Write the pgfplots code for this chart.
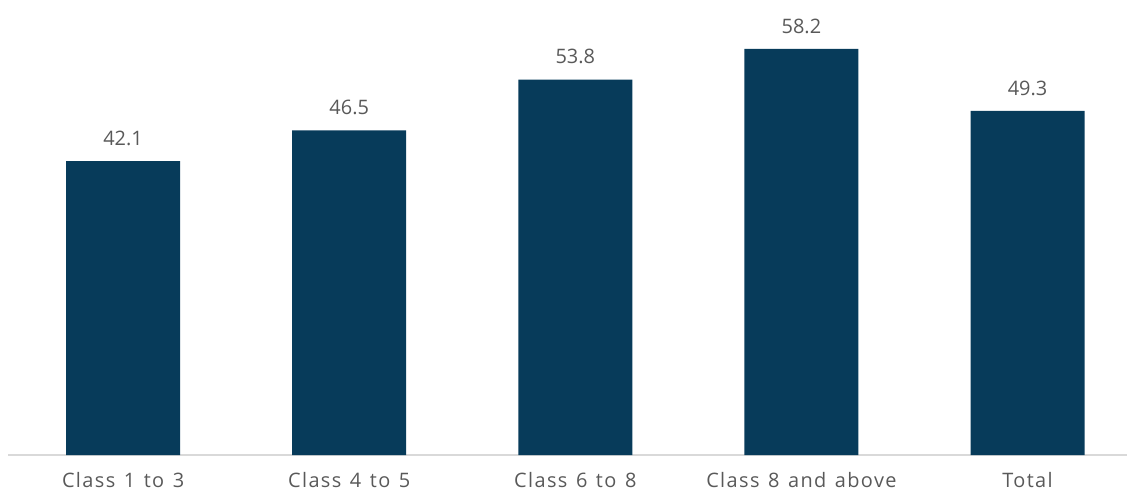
\documentclass[border=0pt]{standalone}
\usepackage{fontspec}
\setmainfont{Open Sans}
\newfontfamily\tickfont[LetterSpace=7,WordSpace=1.3]{Open Sans}
\usepackage{pgfplots}
\pgfplotsset{compat=1.18}
\definecolor{barblue}{HTML}{073B5A}
\definecolor{txtgrey}{HTML}{595959}
\definecolor{axgrey}{HTML}{D9D9D9}
\begin{document}
\begin{tikzpicture}
\begin{axis}[
  scale only axis,
  width=1119bp, height=455bp,
  xmin=-0.509, xmax=4.44,
  ymin=0, ymax=65.2,
  axis x line*=bottom,
  axis y line=none,
  x axis line style={draw=axgrey, line width=1.5bp, -},
  xtick={0,1,2,3,4},
  xticklabels={Class 1 to 3, Class 4 to 5, Class 6 to 8, Class 8 and above, Total},
  major tick length=0pt,
  xticklabel style={font=\tickfont\fontsize{20}{24}\selectfont, text=txtgrey, yshift=-14bp},
  ybar,
  bar width=0.504,
  nodes near coords,
  nodes near coords style={font=\fontsize{20}{24}\selectfont, text=txtgrey, yshift=12bp},
  /pgf/number format/assume math mode=true,
  /pgf/number format/fixed, /pgf/number format/fixed zerofill, /pgf/number format/precision=1,
  clip=false,
]
\addplot[fill=barblue, draw=none] coordinates {(0,42.1) (1,46.5) (2,53.8) (3,58.2) (4,49.3)};
\end{axis}
\pgfresetboundingbox
\path (-8bp,-37bp) rectangle (1119bp,455bp);
\end{tikzpicture}
\end{document}
